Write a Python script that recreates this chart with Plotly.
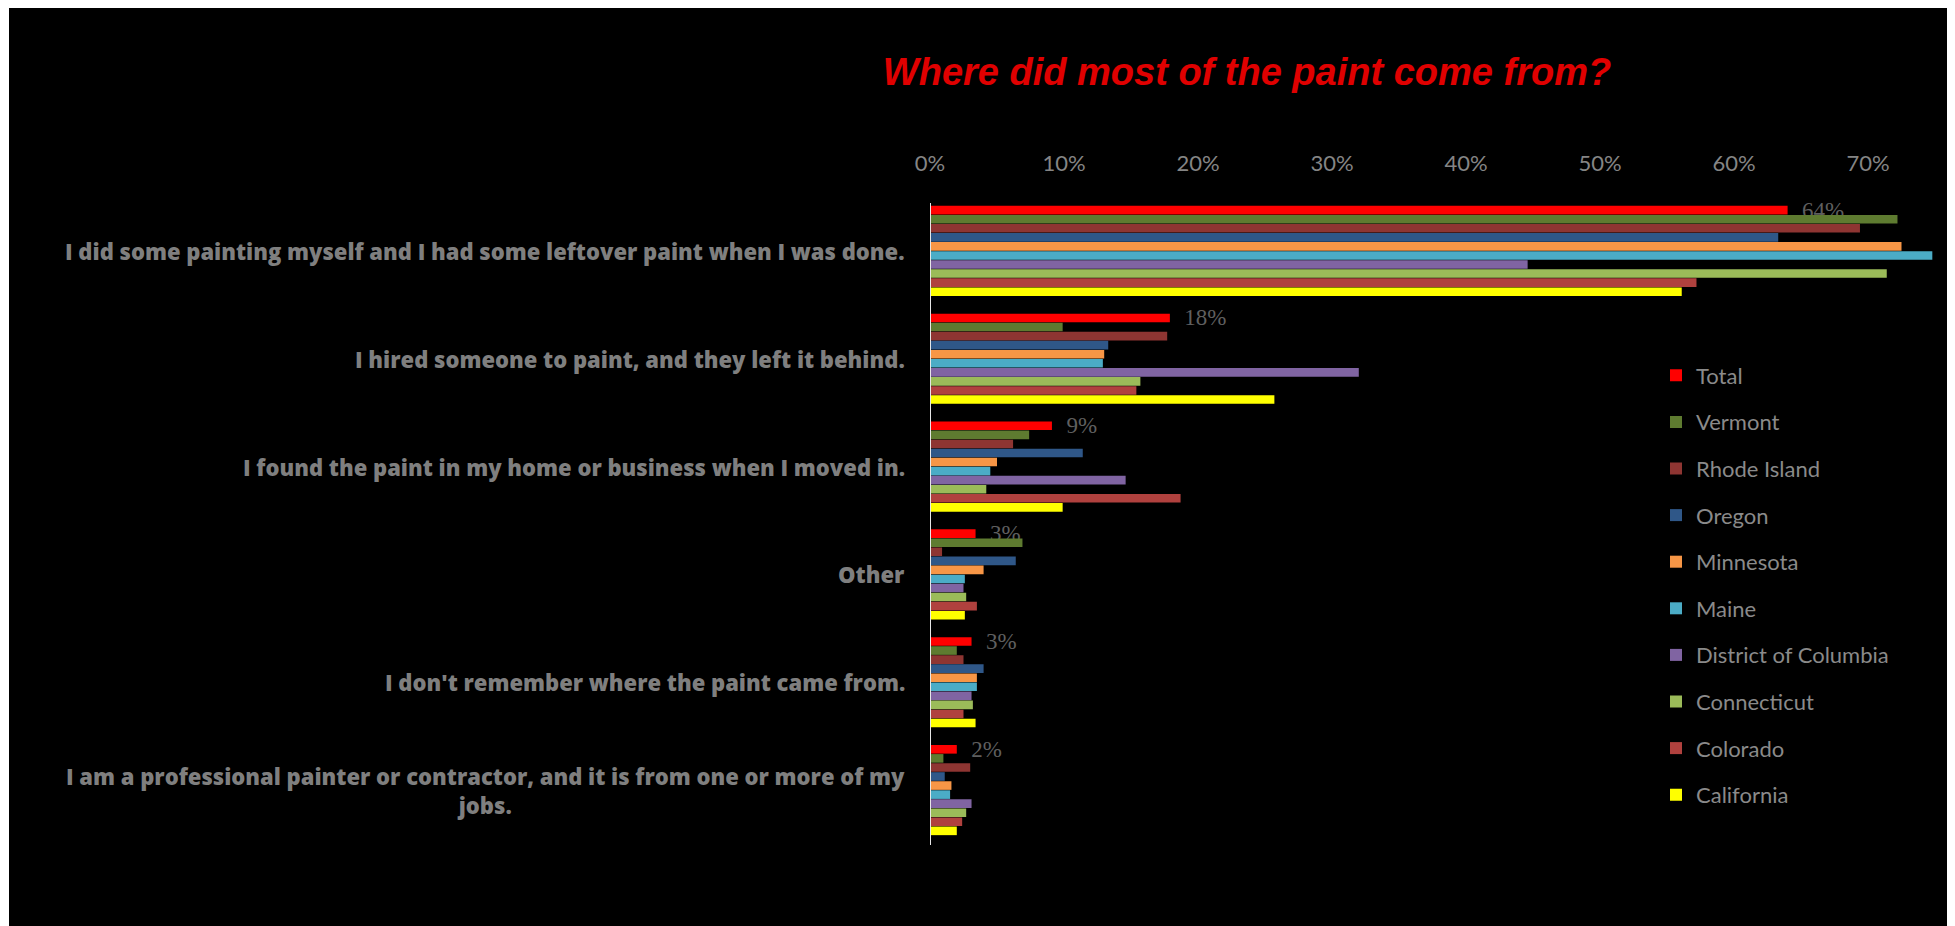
import plotly.graph_objects as go

categories = [
    "I did some painting myself and I had some leftover paint when I was done.",
    "I hired someone to paint, and they left it behind.",
    "I found the paint in my home or business when I moved in.",
    "Other",
    "I don't remember where the paint came from.",
    "I am a professional painter or contractor, and it is from one or more of my<br>jobs.",
]

series_names = ["Total", "Vermont", "Rhode Island", "Oregon", "Minnesota", "Maine",
                "District of Columbia", "Connecticut", "Colorado", "California"]

total = [0.640, 0.179, 0.091, 0.034, 0.031, 0.020]
vermont = [0.722, 0.099, 0.074, 0.069, 0.020, 0.010]
rhode_island = [0.694, 0.177, 0.062, 0.009, 0.025, 0.030]
oregon = [0.633, 0.133, 0.114, 0.064, 0.040, 0.011]
minnesota = [0.725, 0.130, 0.050, 0.040, 0.035, 0.016]
maine = [0.748, 0.129, 0.045, 0.026, 0.035, 0.015]
district_of_columbia = [0.446, 0.320, 0.146, 0.025, 0.031, 0.031]
connecticut = [0.714, 0.157, 0.042, 0.027, 0.032, 0.027]
colorado = [0.572, 0.154, 0.187, 0.035, 0.025, 0.024]
california = [0.561, 0.257, 0.099, 0.026, 0.034, 0.020]

series_values = [total, vermont, rhode_island, oregon, minnesota, maine,
                 district_of_columbia, connecticut, colorado, california]

colors = ["#FF0000", "#5E7B30", "#8E3532", "#2F5788", "#F79646", "#4BACC6",
          "#8064A2", "#9BBB59", "#B0413E", "#FFFF00"]

x_ticks = [0, 0.1, 0.2, 0.3, 0.4, 0.5, 0.6, 0.7]

# page body has an 8px margin: figure coords = screen coords - 8
OFF = 8
W, H = 1955 - OFF, 926 - OFF
L = 930 - OFF
R = W - (1950 - OFF)
T = 197 - OFF
B = H - (844 - OFF)
pw, ph = W - L - R, H - T - B
PX_PER_UNIT = 1340.0  # pixels per 100%


def px_x(p):  # screen x -> paper x
    return (p - OFF - L) / pw


def px_y(p):  # screen y -> paper y
    return (H - B - (p - OFF)) / ph


fig = go.Figure()
for name, vals, col in zip(series_names, series_values, colors):
    kw = {}
    if name == "Total":
        kw = dict(texttemplate="\u00a0\u00a0%{x:.0%}", textposition="outside",
                  textfont=dict(color="#5f5f5f", size=23, family="Liberation Serif"),
                  constraintext="none", cliponaxis=False)
    fig.add_trace(go.Bar(
        y=categories, x=vals, name=name, orientation="h",
        marker=dict(color=col, line=dict(width=0)),
        legendgroup=name, hoverinfo="x+name", **kw))

# category labels as annotations (centered multi-line)
for c in categories:
    fig.add_annotation(
        x=px_x(907), xref="paper", y=c, yref="y", text=c, showarrow=False,
        xanchor="right", yanchor="middle", align="center",
        font=dict(family="Open Sans", size=22, color="#7f7f7f", weight=800))

# black panel
fig.add_shape(type="rect", xref="paper", yref="paper",
              x0=px_x(OFF + 1), x1=px_x(1950), y0=px_y(926 + 20), y1=px_y(OFF - 2),
              fillcolor="black", line=dict(width=0), layer="below")
# vertical category axis line
fig.add_shape(type="line", xref="x", yref="paper",
              x0=0, x1=0, y0=px_y(845), y1=px_y(203),
              line=dict(color="#e6e6e6", width=2), layer="above")

fig.update_layout(
    width=W, height=H, autosize=False,
    margin=dict(l=L, r=R, t=T, b=B, pad=0),
    paper_bgcolor="white", plot_bgcolor="rgba(0,0,0,0)",
    barmode="group", bargap=0.16, bargroupgap=0.05,
    title=dict(text="<b><i>Where did most of the paint come from?</i></b>",
               x=(1247 - OFF) / W, xanchor="center", y=1 - (72 - OFF) / H, yanchor="middle",
               font=dict(family="Liberation Sans", size=38, color="#E00000")),
    xaxis=dict(range=[0, pw / PX_PER_UNIT],
               side="top", tickvals=x_ticks, tickformat=".0%",
               showgrid=False, zeroline=False, showline=False, ticks="",
               tickfont=dict(family="Lato", size=22, color="#858585"),
               ticklabelstandoff=21, fixedrange=True),
    yaxis=dict(categoryorder="array", categoryarray=categories, autorange="reversed",
               showticklabels=False, showgrid=False, zeroline=False,
               showline=False, ticks="", fixedrange=True),
    legend=dict(x=px_x(1648 + OFF), y=px_y(346.5 + OFF), xanchor="left", yanchor="top",
                bgcolor="rgba(0,0,0,0)", tracegroupgap=15,
                font=dict(family="Lato", size=22, color="#8a8a8a")),
    showlegend=True,
)

fig.write_html("out.html")
